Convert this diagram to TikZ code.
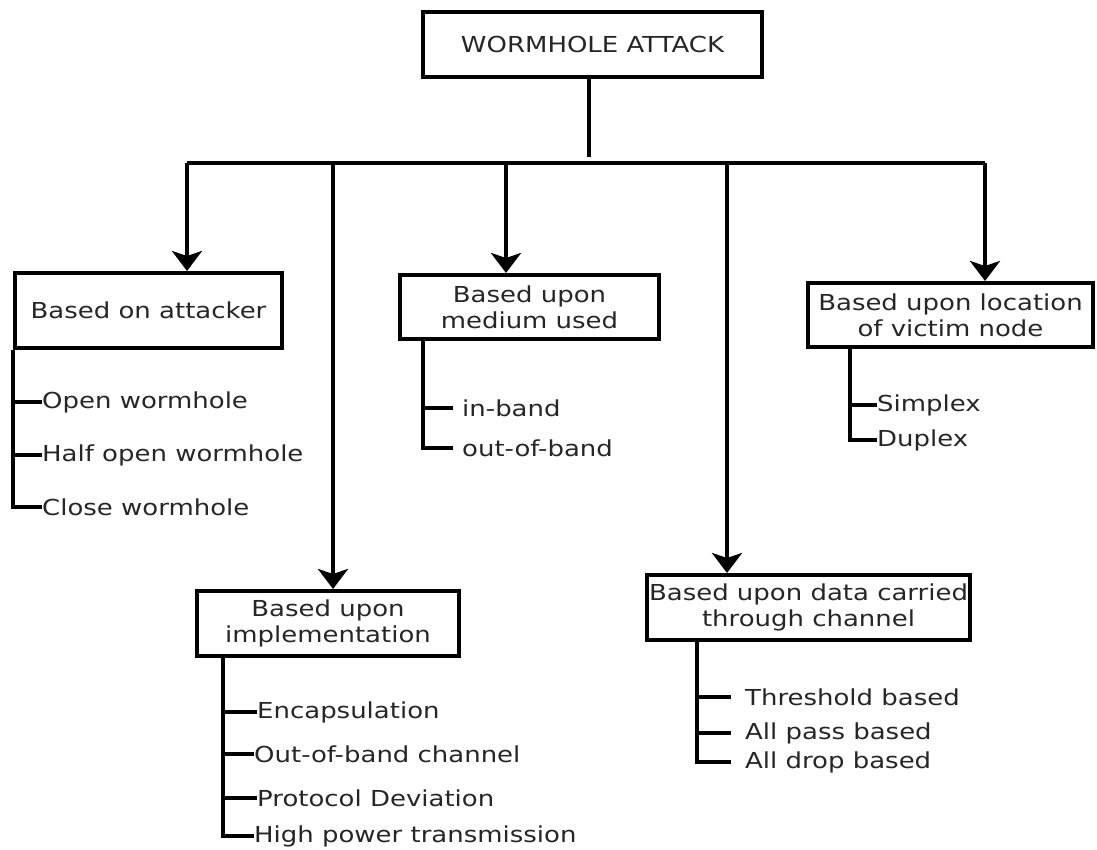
\documentclass[tikz,border=0pt]{standalone}
\usepackage{fontspec}
\setmainfont{DejaVu Sans}[FakeStretch=1.18]
\usetikzlibrary{calc, positioning}
\usetikzlibrary{arrows.meta}

\begin{document}
\begin{tikzpicture}[x=1pt, y=-1pt,
  box/.style={draw, line width=4pt, rectangle, align=center, inner sep=0pt,
    font=\fontsize{22}{26}\selectfont, text=black!85},
  item/.style={anchor=west, inner sep=0pt, font=\fontsize{22}{26}\selectfont, text=black!85},
  link/.style={line width=4pt},
  down/.style={line width=4pt, -{Stealth[length=20pt, width=30pt, inset=5pt]}}]
\def\yBus{163}

\useasboundingbox (0,0) rectangle (1097,850);

% boxes
\node[box, minimum width=339, minimum height=65] (Top) at (592.5,44.5) {WORMHOLE ATTACK};
\node[box, minimum width=267, minimum height=75] (Att) at (148.5,310.5) {Based on attacker};
\node[box, minimum width=259, minimum height=64] (Med) at (529.5,307) {Based upon\\medium used};
\node[box, minimum width=285, minimum height=64] (Loc) at (950.5,315) {Based upon location\\of victim node};
\node[box, minimum width=262, minimum height=65] (Impl) at (328,623.5) {Based upon\\implementation};
\node[box, minimum width=323, minimum height=65] (Data) at (808.5,607.5) {Based upon data carried\\through channel};

% bus
\coordinate (Stem) at (589,157);
\coordinate (BusL) at (187,\yBus);
\coordinate (BusR) at (985,\yBus);
\coordinate (BrImpl) at (333,\yBus);
\coordinate (BrMed) at (506,\yBus);
\coordinate (BrData) at (727,\yBus);

\draw[link] (Stem |- Top.south) -- (Stem);
\draw[link] (BusL) -- (BusR);
\draw[down] (BusL) -- (BusL |- Att.north);
\draw[down] (BrImpl) -- (BrImpl |- Impl.north);
\draw[down] (BrMed) -- (BrMed |- Med.north);
\draw[down] (BrData) -- (BrData |- Data.north);
\draw[down] (BusR) -- (BusR |- Loc.north);

% based on attacker
\node[item] (Open) at (42,402) {Open wormhole};
\node[item] (Half) at (42,455) {Half open wormhole};
\node[item] (Close) at (42,507) {Close wormhole};
\draw[link] (Att.south west) -- (Att.south west |- Close.west) -- (Close.west);
\foreach \n in {Open, Half}
  \draw[link] (Att.south west |- \n.west) -- (\n.west);

% based upon medium used
\coordinate (MedSp) at (423,339);
\node[item] (InB) at (462,408) {in-band};
\node[item] (OutB) at (462,448) {out-of-band};
\draw[link, shorten >=9pt] (MedSp) -- (MedSp |- OutB.west) -- (OutB.west);
\draw[link, shorten >=9pt] (MedSp |- InB.west) -- (InB.west);

% based upon location of victim node
\coordinate (LocSp) at (850,349);
\node[item] (Simp) at (877,405) {Simplex};
\node[item] (Dupl) at (877,440) {Duplex};
\draw[link] (LocSp) -- (LocSp |- Dupl.west) -- (Dupl.west);
\draw[link] (LocSp |- Simp.west) -- (Simp.west);

% based upon implementation
\coordinate (ImplSp) at (223,656);
\node[item] (Enc) at (257,712) {Encapsulation};
\node[item] (Oob) at (254,754) {Out-of-band channel};
\node[item] (Prot) at (257,798) {Protocol Deviation};
\node[item] (High) at (254,836) {High power transmission};
\draw[link] (ImplSp) -- (ImplSp |- High.west) -- (High.west);
\foreach \n in {Enc, Oob, Prot}
  \draw[link] (ImplSp |- \n.west) -- (\n.west);

% based upon data carried
\coordinate (DataSp) at (697,640);
\node[item] (Thr) at (745,697) {Threshold based};
\node[item] (Pass) at (745,733) {All pass based};
\node[item] (Drop) at (745,762) {All drop based};
\draw[link, shorten >=14pt] (DataSp) -- (DataSp |- Drop.west) -- (Drop.west);
\foreach \n in {Thr, Pass}
  \draw[link, shorten >=14pt] (DataSp |- \n.west) -- (\n.west);
\end{tikzpicture}
\end{document}
